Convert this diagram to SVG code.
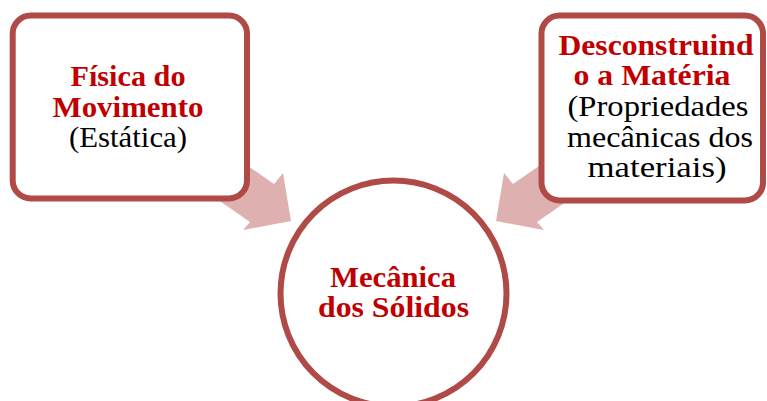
<svg xmlns="http://www.w3.org/2000/svg" width="767" height="401" viewBox="0 0 767 401">
<style>
.box{fill:#fff;stroke:#B04A47;stroke-width:6}
.arr{fill:#DEB1B0;stroke:none}
text{font-family:"Liberation Serif","DejaVu Serif",serif;font-size:29px;text-anchor:middle}
.t{fill:#C00000;font-weight:bold}
.s{fill:#000}
</style>
<g id="connectors">
<polygon class="arr" points="291,221 283,173 274,184 225,150 201,188 250,222 243,230"/>
<polygon class="arr" points="496,221 504,173 513,184 562,150 586,188 537,222 544,230"/>
</g>
<g id="node-fisica">
<rect class="box" x="12.7" y="15.5" width="234.3" height="183" rx="18"/>
<text class="t" x="128" y="86" textLength="115" lengthAdjust="spacingAndGlyphs">Física do</text>
<text class="t" x="128" y="117" textLength="151" lengthAdjust="spacingAndGlyphs">Movimento</text>
<text class="s" x="128" y="147" textLength="118" lengthAdjust="spacingAndGlyphs">(Estática)</text>
</g>
<g id="node-materia">
<rect class="box" x="541.5" y="15.5" width="221.5" height="185" rx="18"/>
<text class="t" x="656" y="55" textLength="195" lengthAdjust="spacingAndGlyphs">Desconstruind</text>
<text class="t" x="652" y="85" textLength="157" lengthAdjust="spacingAndGlyphs">o a Matéria</text>
<text class="s" x="658" y="116" textLength="181" lengthAdjust="spacingAndGlyphs">(Propriedades</text>
<text class="s" x="660" y="147" textLength="186" lengthAdjust="spacingAndGlyphs">mecânicas dos</text>
<text class="s" x="657" y="177" textLength="139" lengthAdjust="spacingAndGlyphs">materiais)</text>
</g>
<g id="node-mecanica">
<circle class="box" cx="393.5" cy="293.5" r="113" stroke-width="5"/>
<text class="t" x="393" y="287" textLength="126" lengthAdjust="spacingAndGlyphs">Mecânica</text>
<text class="t" x="393.5" y="317" textLength="151" lengthAdjust="spacingAndGlyphs">dos Sólidos</text>
</g>
</svg>
